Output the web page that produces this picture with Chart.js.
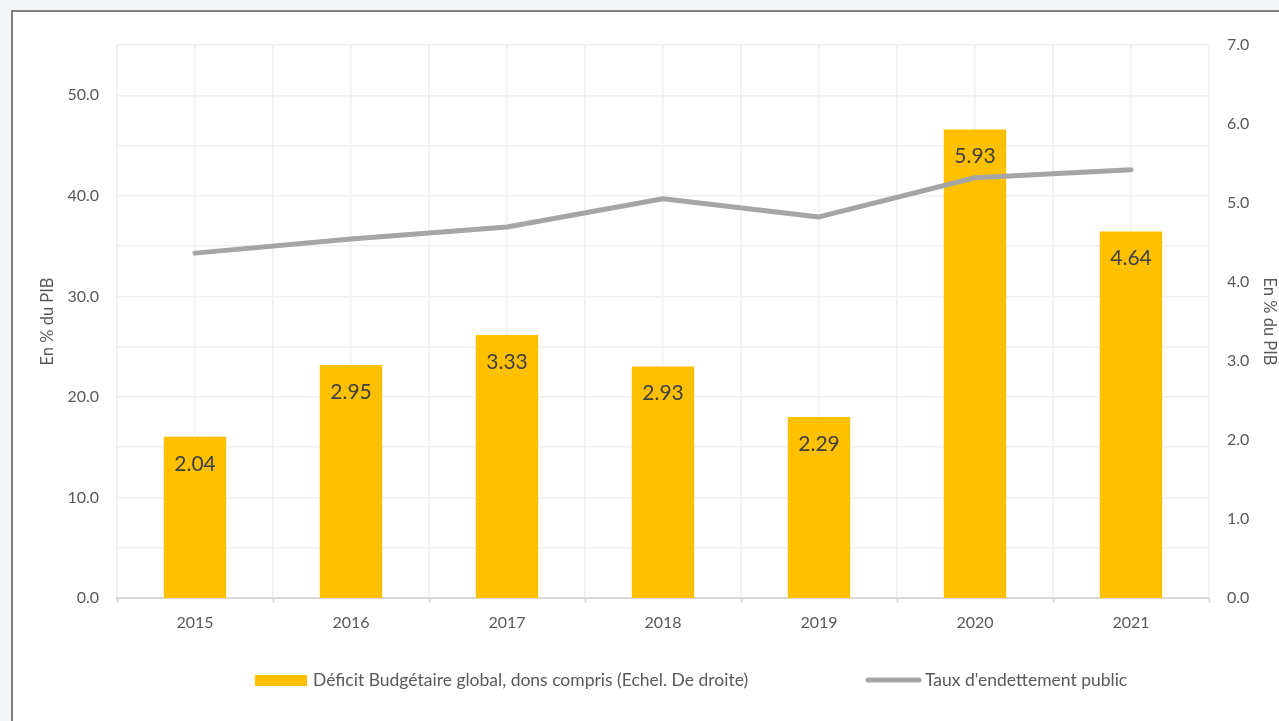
<!DOCTYPE html>
<html>
<head>
<meta charset="utf-8">
<script src="https://cdn.jsdelivr.net/npm/chart.js@4"></script>
<style>
  html, body { margin: 0; padding: 0; width: 1279px; height: 721px; overflow: hidden; background: #f4f5f7; }
  #frame { position: absolute; left: 11px; top: 10px; width: 1300px; height: 760px; border: 2px solid #7f7f7f; background: #ffffff; box-sizing: border-box; }
  #wrap { position: absolute; left: 0; top: 0; width: 1279px; height: 721px; }
</style>
</head>
<body>
<div id="frame"></div>
<div id="wrap"><canvas id="c" width="1279" height="721"></canvas></div>
<script>
const categories = ['2015', '2016', '2017', '2018', '2019', '2020', '2021'];
const deficitValues = [2.04, 2.95, 3.33, 2.93, 2.29, 5.93, 4.64];
const debtValues = [34.3, 35.7, 36.9, 39.7, 37.9, 41.8, 42.6];
const deficitLabel = 'Déficit Budgétaire global, dons compris (Echel. De droite)';
const debtLabel = "Taux d'endettement public";
const axisTitle = 'En % du PIB';

const FONT = 'Lato, "Open Sans", sans-serif';
const TXT = '#595959';

const valueLabels = {
  id: 'valueLabels',
  afterDatasetsDraw(chart) {
    const ctx = chart.ctx;
    const meta = chart.getDatasetMeta(0);
    ctx.save();
    ctx.font = '21px ' + FONT;
    ctx.fillStyle = '#404040';
    ctx.textAlign = 'center';
    ctx.textBaseline = 'middle';
    meta.data.forEach((bar, i) => {
      ctx.fillText(deficitValues[i].toFixed(2), bar.x, bar.y + 27);
    });
    ctx.restore();
  }
};

const customLegend = {
  id: 'customLegend',
  afterDraw(chart) {
    const ctx = chart.ctx;
    const y = 680;
    ctx.save();
    ctx.font = '17.5px ' + FONT;
    ctx.textBaseline = 'middle';
    ctx.textAlign = 'left';
    ctx.fillStyle = '#FFC000';
    ctx.fillRect(255, y - 5, 52, 11);
    ctx.fillStyle = TXT;
    ctx.fillText(deficitLabel, 313, y);
    ctx.strokeStyle = '#A5A5A5';
    ctx.lineWidth = 5;
    ctx.lineCap = 'round';
    ctx.beginPath();
    ctx.moveTo(868, y);
    ctx.lineTo(919, y);
    ctx.stroke();
    ctx.fillText(debtLabel, 925, y);
    ctx.restore();
  }
};

new Chart(document.getElementById('c'), {
  data: {
    labels: categories,
    datasets: [
      {
        type: 'bar',
        label: deficitLabel,
        data: deficitValues,
        backgroundColor: '#FFC000',
        yAxisID: 'y1',
        xAxisID: 'x',
        barPercentage: 1,
        categoryPercentage: 0.4,
        order: 2
      },
      {
        type: 'line',
        label: debtLabel,
        data: debtValues,
        borderColor: '#A5A5A5',
        backgroundColor: '#A5A5A5',
        borderWidth: 5,
        borderCapStyle: 'round',
        borderJoinStyle: 'round',
        pointRadius: 0,
        tension: 0,
        yAxisID: 'y',
        xAxisID: 'x',
        order: 1
      }
    ]
  },
  options: {
    responsive: false,
    animation: false,
    layout: { padding: { top: 45, left: 0, right: 0, bottom: 0 } },
    plugins: {
      legend: { display: false },
      tooltip: { enabled: false }
    },
    scales: {
      x: {
        type: 'category',
        position: 'bottom',
        offset: true,
        grid: {
          offset: true,
          drawOnChartArea: false,
          drawTicks: true,
          tickLength: 5,
          tickColor: '#d9d9d9',
          tickWidth: 2
        },
        border: { display: true, color: '#d9d9d9', width: 2 },
        ticks: { color: TXT, font: { family: FONT, size: 16 }, padding: 10, maxRotation: 0 },
        afterFit(scale) { scale.height = 123; }
      },
      xg: {
        type: 'linear',
        position: 'bottom',
        min: -0.5,
        max: 6.5,
        display: true,
        ticks: { display: false, stepSize: 0.5 },
        grid: { color: '#efefef', lineWidth: 1.5, drawTicks: false },
        border: { display: false },
        afterFit(scale) { scale.height = 0; }
      },
      y: {
        type: 'linear',
        position: 'left',
        min: 0,
        max: 55,
        ticks: {
          stepSize: 5,
          color: TXT,
          font: { family: FONT, size: 16 },
          padding: 18,
          callback: (v) => (v % 10 === 0 ? v.toFixed(1) : '')
        },
        grid: { color: '#efefef', lineWidth: 1.5, drawTicks: false },
        border: { display: false },
        title: {
          display: true,
          text: axisTitle,
          color: TXT,
          font: { family: FONT, size: 16.5 },
          padding: { top: 38, bottom: 0 }
        },
        afterFit(scale) { scale.width = 117; }
      },
      y1: {
        type: 'linear',
        position: 'right',
        min: 0,
        max: 7,
        ticks: {
          stepSize: 1,
          color: TXT,
          font: { family: FONT, size: 16 },
          padding: 18,
          callback: (v) => v.toFixed(1)
        },
        grid: { display: false, drawTicks: false },
        border: { display: false },
        title: {
          display: true,
          text: axisTitle,
          color: TXT,
          font: { family: FONT, size: 16.5 },
          padding: { top: 0, bottom: 0 }
        },
        afterFit(scale) { scale.width = 70; }
      }
    }
  },
  plugins: [valueLabels, customLegend]
});
</script>
</body>
</html>
